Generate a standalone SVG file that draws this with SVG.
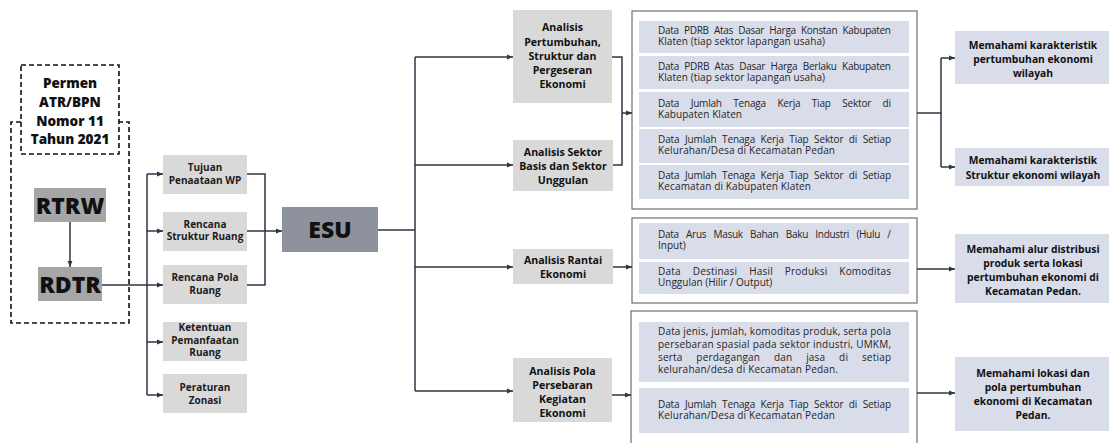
<svg xmlns="http://www.w3.org/2000/svg" width="1109" height="443" viewBox="0 0 1109 443">
  <defs>
    <marker id="arr" markerUnits="userSpaceOnUse" markerWidth="6" markerHeight="6" viewBox="0 0 6 6" refX="6" refY="3" orient="auto">
      <path d="M0,0.6 L6,3 L0,5.4 Z" fill="#2f3546"/>
    </marker>
    <style>
      .ln { fill: none; stroke: #2f3546; stroke-width: 1.5; }
      .dash { fill: none; stroke: #111; stroke-width: 1.6; stroke-dasharray: 5 3; }
      .gray { fill: #d9d9d9; }
      .dark { fill: #a6a6a6; }
      .esu { fill: #8e929c; }
      .blue { fill: #d9dce9; }
      .frame { fill: #fff; stroke: #6f6f6f; stroke-width: 1.2; }
      .big { font-family: "Open Sans", "Liberation Sans", sans-serif; font-weight: 800; font-size: 23px; fill: #111; text-anchor: middle; }
      .hd { font-family: "Open Sans", "Liberation Sans", sans-serif; font-weight: 800; font-size: 13.5px; fill: #111; text-anchor: middle; }
      .sm { font-family: "Open Sans", "Liberation Sans", sans-serif; font-weight: 700; font-size: 10px; fill: #1c1c1c; text-anchor: middle; }
      .an { font-family: "Open Sans", "Liberation Sans", sans-serif; font-weight: 700; font-size: 10.6px; fill: #111; text-anchor: middle; }
      .rt { font-family: "Open Sans", "Liberation Sans", sans-serif; font-weight: 700; font-size: 10.3px; fill: #111; text-anchor: middle; }
      .dt { font-family: "Open Sans", "Liberation Sans", sans-serif; font-size: 10px; fill: #262626; }
      .j3 { word-spacing: 3px; }
      .j5 { word-spacing: 5px; }
      .j9 { word-spacing: 9px; }
      .j11 { word-spacing: 11px; }
    </style>
  </defs>

  <!-- regulation frame -->
  <g id="frame-permen">
    <path class="dash" d="M21,122 H11 V323 H129 V122 H119"/>
    <rect class="dash" x="21" y="65" width="98" height="89" fill="#fff"/>
    <text class="hd" x="70" y="88">Permen</text>
    <text class="hd" x="70" y="107">ATR/BPN</text>
    <text class="hd" x="70" y="125.5">Nomor 11</text>
    <text class="hd" x="70" y="144">Tahun 2021</text>
  </g>

  <g id="node-rtrw">
    <rect class="dark" x="34" y="188" width="72" height="34"/>
    <text class="big" x="70" y="213.5">RTRW</text>
  </g>
  <g id="node-rdtr">
    <rect class="dark" x="38" y="267" width="64" height="34"/>
    <text class="big" x="70" y="292.5">RDTR</text>
  </g>

  <!-- RDTR contents -->
  <g id="node-tujuan">
    <rect class="gray" x="163" y="155" width="84" height="39"/>
    <text class="sm" x="205" y="171">Tujuan</text>
    <text class="sm" x="205" y="183.5">Penaataan WP</text>
  </g>
  <g id="node-struktur">
    <rect class="gray" x="163" y="212" width="84" height="39"/>
    <text class="sm" x="205" y="227.5">Rencana</text>
    <text class="sm" x="205" y="240">Struktur Ruang</text>
  </g>
  <g id="node-pola">
    <rect class="gray" x="163" y="265" width="84" height="39"/>
    <text class="sm" x="205" y="281">Rencana Pola</text>
    <text class="sm" x="205" y="293.5">Ruang</text>
  </g>
  <g id="node-ketentuan">
    <rect class="gray" x="163" y="322" width="84" height="39"/>
    <text class="sm" x="205" y="331">Ketentuan</text>
    <text class="sm" x="205" y="343.5">Pemanfaatan</text>
    <text class="sm" x="205" y="356">Ruang</text>
  </g>
  <g id="node-zonasi">
    <rect class="gray" x="163" y="374" width="84" height="39"/>
    <text class="sm" x="205" y="391">Peraturan</text>
    <text class="sm" x="205" y="403.5">Zonasi</text>
  </g>

  <g id="node-esu">
    <rect class="esu" x="282" y="207" width="96" height="45"/>
    <text class="big" x="330" y="238">ESU</text>
  </g>

  <!-- analyses -->
  <g id="node-pertumbuhan">
    <rect class="gray" x="513" y="10" width="99" height="93"/>
    <text class="an" x="562.5" y="31">Analisis</text>
    <text class="an" x="562.5" y="45.5">Pertumbuhan,</text>
    <text class="an" x="562.5" y="60">Struktur dan</text>
    <text class="an" x="562.5" y="74">Pergeseran</text>
    <text class="an" x="562.5" y="88">Ekonomi</text>
  </g>
  <g id="node-sektor">
    <rect class="gray" x="513" y="140" width="100" height="51"/>
    <text class="an" x="563" y="155.5">Analisis Sektor</text>
    <text class="an" x="563" y="169.5">Basis dan Sektor</text>
    <text class="an" x="563" y="184">Unggulan</text>
  </g>
  <g id="node-rantai">
    <rect class="gray" x="513" y="249" width="100" height="35"/>
    <text class="an" x="563" y="264">Analisis Rantai</text>
    <text class="an" x="563" y="277.5">Ekonomi</text>
  </g>
  <g id="node-persebaran">
    <rect class="gray" x="513" y="358" width="99" height="64"/>
    <text class="an" x="562.5" y="375">Analisis Pola</text>
    <text class="an" x="562.5" y="389">Persebaran</text>
    <text class="an" x="562.5" y="403">Kegiatan</text>
    <text class="an" x="562.5" y="416.5">Ekonomi</text>
  </g>

  <!-- data requirements (justified lines stretched to the column width) -->
  <g id="node-data-1">
    <rect class="frame" x="632" y="11" width="285" height="198"/>
    <rect class="blue" x="639" y="21" width="270" height="32"/>
    <rect class="blue" x="639" y="56" width="270" height="33"/>
    <rect class="blue" x="639" y="92" width="270" height="35"/>
    <rect class="blue" x="639" y="129" width="270" height="34"/>
    <rect class="blue" x="639" y="165" width="270" height="34"/>
    <text class="dt j3" x="658" y="34" textLength="233" lengthAdjust="spacing">Data PDRB Atas Dasar Harga Konstan Kabupaten</text>
    <text class="dt" x="658" y="45" textLength="167" lengthAdjust="spacing">Klaten (tiap sektor lapangan usaha)</text>
    <text class="dt j3" x="658" y="70" textLength="233" lengthAdjust="spacing">Data PDRB Atas Dasar Harga Berlaku Kabupaten</text>
    <text class="dt" x="658" y="81" textLength="167" lengthAdjust="spacing">Klaten (tiap sektor lapangan usaha)</text>
    <text class="dt j9" x="658" y="106.5" textLength="233" lengthAdjust="spacing">Data Jumlah Tenaga Kerja Tiap Sektor di</text>
    <text class="dt" x="658" y="117.5" textLength="84" lengthAdjust="spacing">Kabupaten Klaten</text>
    <text class="dt j3" x="658" y="143" textLength="233" lengthAdjust="spacing">Data Jumlah Tenaga Kerja Tiap Sektor di Setiap</text>
    <text class="dt" x="658" y="154" textLength="177" lengthAdjust="spacing">Kelurahan/Desa di Kecamatan Pedan</text>
    <text class="dt j3" x="658" y="179" textLength="233" lengthAdjust="spacing">Data Jumlah Tenaga Kerja Tiap Sektor di Setiap</text>
    <text class="dt" x="658" y="190" textLength="153" lengthAdjust="spacing">Kecamatan di Kabupaten Klaten</text>
  </g>
  <g id="node-data-2">
    <rect class="frame" x="632" y="218" width="285" height="85"/>
    <rect class="blue" x="639" y="223" width="270" height="36"/>
    <rect class="blue" x="639" y="262" width="270" height="32"/>
    <text class="dt j5" x="658" y="238" textLength="233" lengthAdjust="spacing">Data Arus Masuk Bahan Baku Industri (Hulu /</text>
    <text class="dt" x="658" y="249">Input)</text>
    <text class="dt j9" x="658" y="275" textLength="233" lengthAdjust="spacing">Data Destinasi Hasil Produksi Komoditas</text>
    <text class="dt" x="658" y="286">Unggulan (Hilir / Output)</text>
  </g>
  <g id="node-data-3">
    <rect class="frame" x="631" y="311" width="286" height="140"/>
    <rect class="blue" x="639" y="322" width="270" height="60"/>
    <rect class="blue" x="639" y="388" width="270" height="45"/>
    <text class="dt" x="658" y="335" textLength="233" lengthAdjust="spacing">Data jenis, jumlah, komoditas produk, serta pola</text>
    <text class="dt" x="658" y="347.8" textLength="233" lengthAdjust="spacing">persebaran spasial pada sektor industri, UMKM,</text>
    <text class="dt j11" x="658" y="360.6" textLength="233" lengthAdjust="spacing">serta perdagangan dan jasa di setiap</text>
    <text class="dt" x="658" y="373.4" textLength="180" lengthAdjust="spacing">kelurahan/desa di Kecamatan Pedan.</text>
    <text class="dt j3" x="658" y="407.5" textLength="233" lengthAdjust="spacing">Data Jumlah Tenaga Kerja Tiap Sektor di Setiap</text>
    <text class="dt" x="658" y="418.5" textLength="177" lengthAdjust="spacing">Kelurahan/Desa di Kecamatan Pedan</text>
  </g>

  <!-- outcomes -->
  <g id="node-out-1">
    <rect class="blue" x="955" y="31" width="156" height="53"/>
    <text class="rt" x="1033" y="48.5">Memahami karakteristik</text>
    <text class="rt" x="1033" y="63">pertumbuhan ekonomi</text>
    <text class="rt" x="1033" y="77">wilayah</text>
  </g>
  <g id="node-out-2">
    <rect class="blue" x="955" y="148" width="156" height="38"/>
    <text class="rt" x="1033" y="164">Memahami karakteristik</text>
    <text class="rt" x="1033" y="178.5">Struktur ekonomi wilayah</text>
  </g>
  <g id="node-out-3">
    <rect class="blue" x="955" y="234" width="156" height="69"/>
    <text class="rt" x="1033" y="253">Memahami alur distribusi</text>
    <text class="rt" x="1033" y="267">produk serta lokasi</text>
    <text class="rt" x="1033" y="281">pertumbuhan ekonomi di</text>
    <text class="rt" x="1033" y="294.5">Kecamatan Pedan.</text>
  </g>
  <g id="node-out-4">
    <rect class="blue" x="955" y="357" width="156" height="74"/>
    <text class="rt" x="1033" y="377">Memahami lokasi dan</text>
    <text class="rt" x="1033" y="391">pola pertumbuhan</text>
    <text class="rt" x="1033" y="405">ekonomi di Kecamatan</text>
    <text class="rt" x="1033" y="418.5">Pedan.</text>
  </g>

  <!-- connectors -->
  <g id="connectors">
    <path class="ln" d="M70,222 V267" marker-end="url(#arr)"/>
    <path class="ln" d="M102,285 H147"/>
    <path class="ln" d="M147,174 V395"/>
    <path class="ln" d="M147,174 H163" marker-end="url(#arr)"/>
    <path class="ln" d="M147,231 H163" marker-end="url(#arr)"/>
    <path class="ln" d="M147,285 H163" marker-end="url(#arr)"/>
    <path class="ln" d="M147,342 H163" marker-end="url(#arr)"/>
    <path class="ln" d="M147,395 H163" marker-end="url(#arr)"/>
    <path class="ln" d="M247,174 H265 V285 H247"/>
    <path class="ln" d="M247,231 H282" marker-end="url(#arr)"/>
    <path class="ln" d="M378,230 H415"/>
    <path class="ln" d="M415,57 V391"/>
    <path class="ln" d="M415,57 H513" marker-end="url(#arr)"/>
    <path class="ln" d="M415,165 H513" marker-end="url(#arr)"/>
    <path class="ln" d="M415,267 H513" marker-end="url(#arr)"/>
    <path class="ln" d="M415,391 H513" marker-end="url(#arr)"/>
    <path class="ln" d="M612,57 H622 V165 H613"/>
    <path class="ln" d="M622,113 H632" marker-end="url(#arr)"/>
    <path class="ln" d="M613,267 H632" marker-end="url(#arr)"/>
    <path class="ln" d="M612,395 H631" marker-end="url(#arr)"/>
    <path class="ln" d="M917,113 H941"/>
    <path class="ln" d="M941,58 V167"/>
    <path class="ln" d="M941,58 H955" marker-end="url(#arr)"/>
    <path class="ln" d="M941,167 H955" marker-end="url(#arr)"/>
    <path class="ln" d="M917,269 H955" marker-end="url(#arr)"/>
    <path class="ln" d="M917,393 H955" marker-end="url(#arr)"/>
  </g>
</svg>
